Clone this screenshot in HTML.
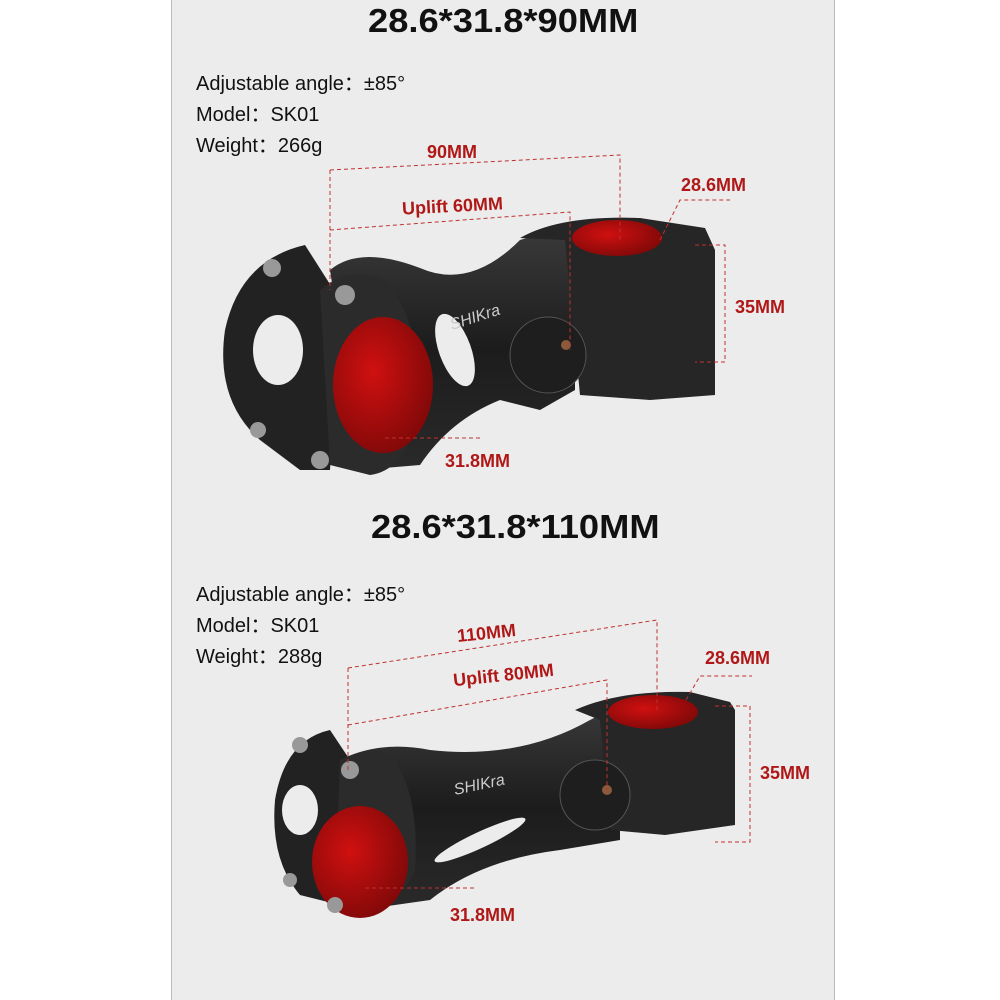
<!DOCTYPE html>
<html><head><meta charset="utf-8"><style>
html,body{margin:0;padding:0;background:#fff;}
.wrap{position:relative;width:1000px;height:1000px;background:#fff;overflow:hidden;font-family:"Liberation Sans",sans-serif;}
.panel{position:absolute;left:171px;top:0;width:662px;height:1000px;background:#ececec;border-left:1px solid #bbb;border-right:1px solid #bbb;}
.t{position:absolute;white-space:nowrap;}
.title{font-size:33px;color:#111;font-weight:bold;transform-origin:left top;transform:scaleX(1.1);}
.spec{font-size:20px;color:#111;line-height:31px;font-family:"Liberation Sans","Noto Sans CJK SC",sans-serif;}
.r{color:#b01818;font-size:18px;font-weight:bold;}
</style></head><body><div class="wrap">
<div class="panel"></div>
<svg width="1000" height="1000" style="position:absolute;left:0;top:0">
<defs>
<linearGradient id="g" x1="0" y1="0" x2="0" y2="1"><stop offset="0" stop-color="#3a3a3a"/><stop offset="0.5" stop-color="#1c1c1c"/><stop offset="1" stop-color="#2a2a2a"/></linearGradient>
<radialGradient id="rd" cx="0.4" cy="0.4" r="0.7"><stop offset="0" stop-color="#d01010"/><stop offset="1" stop-color="#7a0808"/></radialGradient>
</defs>
<g>
<path d="M330,270 Q360,245 420,268 Q470,290 520,240 L560,228 L575,260 L575,390 L540,410 L500,400 Q450,420 420,465 L360,470 Z" fill="url(#g)"/>
<path d="M520,238 Q560,215 640,218 L705,228 L715,250 L715,395 L650,400 L580,395 L565,240 Z" fill="#262626"/>
<ellipse cx="617" cy="238" rx="45" ry="18" fill="url(#rd)"/>
<circle cx="548" cy="355" r="38" fill="#1e1e1e" stroke="#555"/>
<circle cx="566" cy="345" r="5" fill="#8a5a3a"/>
<path d="M305,245 Q240,260 225,330 Q215,400 260,440 L300,470 L330,470 L340,300 Z" fill="#222"/>
<ellipse cx="278" cy="350" rx="25" ry="35" fill="#ececec"/>
<path d="M320,290 Q350,265 385,280 Q420,320 420,400 Q410,470 370,475 L330,465 Z" fill="#2b2b2b"/>
<ellipse cx="383" cy="385" rx="50" ry="68" fill="url(#rd)"/>
<ellipse cx="455" cy="350" rx="16" ry="38" fill="#ececec" transform="rotate(-20 455 350)"/>
<circle cx="272" cy="268" r="9" fill="#999"/><circle cx="345" cy="295" r="10" fill="#999"/>
<circle cx="258" cy="430" r="8" fill="#999"/><circle cx="320" cy="460" r="9" fill="#999"/>
<text x="452" y="330" font-family="Liberation Sans" font-size="16" font-style="italic" fill="#ccc" transform="rotate(-18 452 330)">SHIKra</text>
</g>
<g stroke="#c03030" stroke-width="1" stroke-dasharray="4,3" fill="none">
<path d="M330,170 L620,155 L620,240"/><path d="M330,170 L330,290"/>
<path d="M330,230 L570,212 L570,350"/>
<path d="M660,240 L680,200 L730,200"/>
<path d="M695,245 L725,245 L725,362 L695,362"/>
<path d="M385,438 L480,438"/>
</g>
<g>
<path d="M340,760 Q380,740 430,750 Q520,760 590,720 L620,705 L620,840 L560,850 Q480,860 430,900 L360,910 Z" fill="url(#g)"/>
<path d="M575,710 Q620,690 690,692 L730,702 L735,710 L735,825 L665,835 L610,830 L600,720 Z" fill="#262626"/>
<ellipse cx="653" cy="712" rx="45" ry="17" fill="url(#rd)"/>
<circle cx="595" cy="795" r="35" fill="#1e1e1e" stroke="#555"/>
<circle cx="607" cy="790" r="5" fill="#8a5a3a"/>
<path d="M330,730 Q285,740 275,800 Q270,860 300,895 L340,905 L350,760 Z" fill="#222"/>
<ellipse cx="300" cy="810" rx="18" ry="25" fill="#ececec"/>
<path d="M340,760 Q370,745 395,760 Q420,800 415,870 Q400,905 365,910 L335,900 Z" fill="#2b2b2b"/>
<ellipse cx="360" cy="862" rx="48" ry="56" fill="url(#rd)"/>
<ellipse cx="480" cy="840" rx="50" ry="8" fill="#ececec" transform="rotate(-25 480 840)"/>
<circle cx="300" cy="745" r="8" fill="#999"/><circle cx="350" cy="770" r="9" fill="#999"/>
<circle cx="290" cy="880" r="7" fill="#999"/><circle cx="335" cy="905" r="8" fill="#999"/>
<text x="455" y="795" font-family="Liberation Sans" font-size="16" font-style="italic" fill="#ccc" transform="rotate(-12 455 795)">SHIKra</text>
</g>
<g stroke="#c03030" stroke-width="1" stroke-dasharray="4,3" fill="none">
<path d="M348,668 L657,620 L657,712"/><path d="M348,668 L348,772"/>
<path d="M348,725 L607,680 L607,790"/>
<path d="M686,700 L700,676 L752,676"/>
<path d="M715,706 L750,706 L750,842 L715,842"/>
<path d="M365,888 L475,888"/>
</g>
</svg>
<div class="t title" style="left:368px;top:2px;">28.6*31.8*90MM</div>
<div class="t spec" style="left:196px;top:69px;">Adjustable angle：±85°<br>Model：SK01<br>Weight：266g</div>
<div class="t r" style="left:427px;top:142px;">90MM</div>
<div class="t r" style="left:402px;top:196px;transform:rotate(-3deg)">Uplift 60MM</div>
<div class="t r" style="left:681px;top:175px;">28.6MM</div>
<div class="t r" style="left:735px;top:297px;">35MM</div>
<div class="t r" style="left:445px;top:451px;">31.8MM</div>
<div class="t title" style="left:371px;top:508px;">28.6*31.8*110MM</div>
<div class="t spec" style="left:196px;top:580px;">Adjustable angle：±85°<br>Model：SK01<br>Weight：288g</div>
<div class="t r" style="left:457px;top:623px;transform:rotate(-6deg)">110MM</div>
<div class="t r" style="left:453px;top:665px;transform:rotate(-6deg)">Uplift 80MM</div>
<div class="t r" style="left:705px;top:648px;">28.6MM</div>
<div class="t r" style="left:760px;top:763px;">35MM</div>
<div class="t r" style="left:450px;top:905px;">31.8MM</div>
</div></body></html>
